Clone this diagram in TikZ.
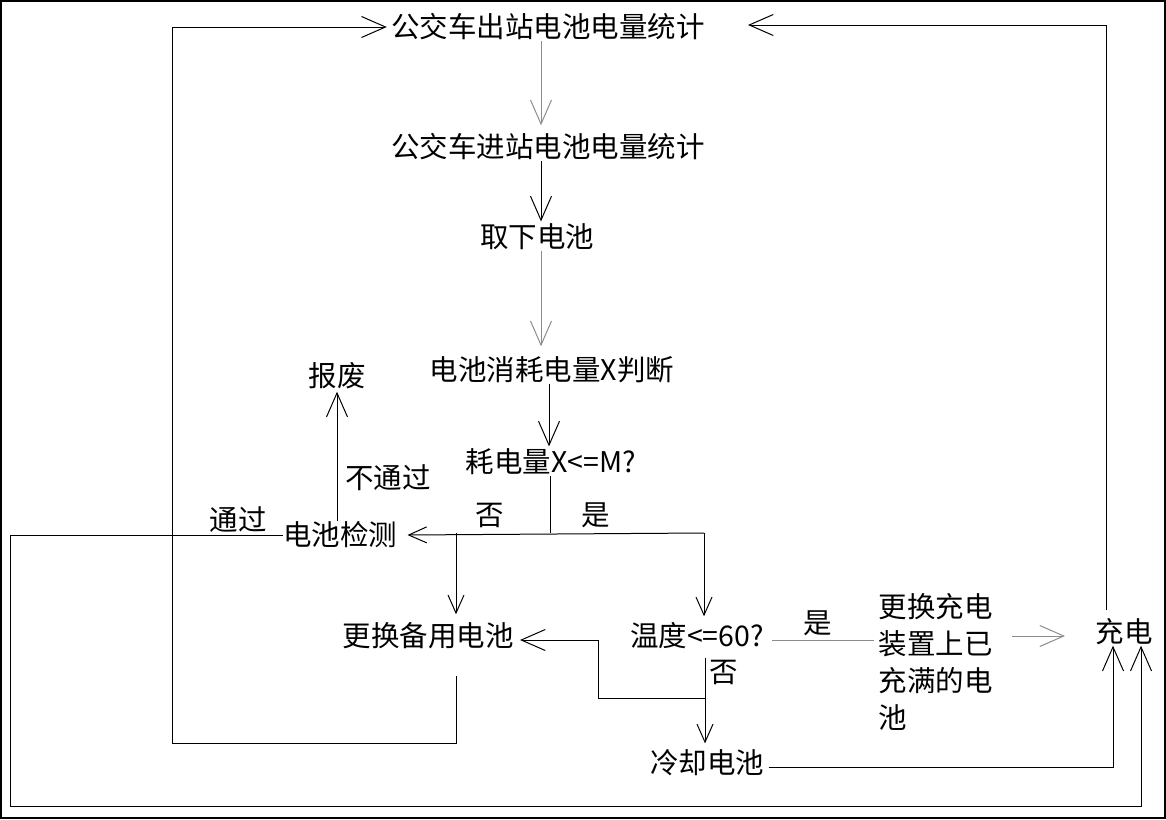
\documentclass[tikz,border=0pt]{standalone}
\usepackage{fontspec}
\setmainfont{Noto Sans CJK SC}
\usetikzlibrary{arrows.meta,calc}
\begin{document}
\begin{tikzpicture}[x=1pt,y=-1pt,
  font=\fontsize{28.5}{37}\selectfont,
  line width=1pt,
  lbl/.style={inner sep=0pt},
  arr/.style={-{Straight Barb[length=24pt,width=21pt,line width=1pt]}},
  sarr/.style={-{Straight Barb[length=18pt,width=16pt,line width=1pt]}},
  gl/.style={draw=black!45}]
\useasboundingbox (0,0) rectangle (1166,819);
\draw[line width=2pt] (1,1) rectangle (1165,818);

% nodes
\node[lbl] (n1) at (548,27) {公交车出站电池电量统计};
\node[lbl] (n2) at (548,147) {公交车进站电池电量统计};
\node[lbl] (n3) at (537,237) {取下电池};
\node[lbl] (n4) at (552,370) {电池消耗电量X判断};
\node[lbl] (n5) at (551,462) {耗电量X<=M?};
\node[lbl] (n6) at (340,535) {电池检测};
\node[lbl] (n7) at (337,376) {报废};
\node[lbl] (n8) at (428,636) {更换备用电池};
\node[lbl] (n9) at (697,636) {温度<=60?};
\node[lbl] (n10) at (707,763) {冷却电池};
\node[lbl,align=left,anchor=west] (n11) at (878,662) {更换充电\\装置上已\\充满的电\\池};
\node[lbl] (n12) at (1124,632) {充电};

% labels
\node[lbl] (l1) at (490,515) {否};
\node[lbl] (l2) at (596,515) {是};
\node[lbl] (l3) at (388,478) {不通过};
\node[lbl] (l4) at (238,520) {通过};
\node[lbl] (l5) at (724,672) {否};
\node[lbl] (l6) at (818,623) {是};

% coordinates
\coordinate (j0) at (550,533);
\coordinate (jR) at (704,533);
\coordinate (jL) at (456,533);
\coordinate (b1) at (10,806);
\coordinate (b2) at (1141,806);
\coordinate (a1) at (172,743);
\coordinate (k) at (705,698);
\coordinate (k2) at (598,698);
\coordinate (d1) at (1113,767);
\coordinate (e1) at (1106,25);
\coordinate (e2) at (748,25);
\coordinate (f1) at (1012,636);
\coordinate (f2) at (1065,636);

% connectors
\draw[arr,gl] ($(n1.south)+(-7,0)$) -- ($(n2.north)+(-7,-8)$);
\draw[arr] ($(n2.south)+(-7,0)$) -- ($(n3.north)+(4,-2)$);
\draw[arr,gl] ($(n3.south)+(4,0)$) -- ($(n4.north)+(-11,-10)$);
\draw[arr] ($(n4.south)+(-3,0)$) -- ($(n5.north)+(-2,-2)$);
\draw ($(n5.south)+(-1,0)$) -- (j0);
\draw[sarr] (jR) -- ($(n6.east)+(10,0)$);
\draw[sarr] (jR) -- ($(jR |- n9.north)+(0,-6)$);
\draw[sarr] (jL) -- ($(jL |- n8.north)+(0,-8)$);
\draw[arr] ($(n6.north)+(-3,0)$) -- ($(n7.south)+(0,2)$);
\draw[arr] (n6.west) -| (b1) -- (b2) -- (b2 |- n12.south);
\draw[arr] ($(jL |- n8.south)+(0,26)$) -- (jL |- a1) -- (a1) -- (a1 |- n1.west) -- ($(n1.west)+(-4,0)$);
\draw ($(k |- n9.south)+(0,8)$) -- (k);
\draw[sarr] (k) -- ($(k |- n10.north)+(0,-6)$);
\draw[arr] (k) -- (k2) -- ($(k2 |- n8.east)+(0,4)$) -- ($(n8.east)+(6,4)$);
\draw[gl] ($(n9.east)+(8,4)$) -- ($(n11.west |- n9.east)+(-4,4)$);
\draw[arr,gl] (f1) -- (f2);
\draw[arr] ($(n10.east)+(4,4)$) -- (d1) -- (d1 |- n12.south);
\draw[arr] ($(e1 |- n12.north)+(0,-8)$) -- (e1) -- (e2);
\end{tikzpicture}
\end{document}
